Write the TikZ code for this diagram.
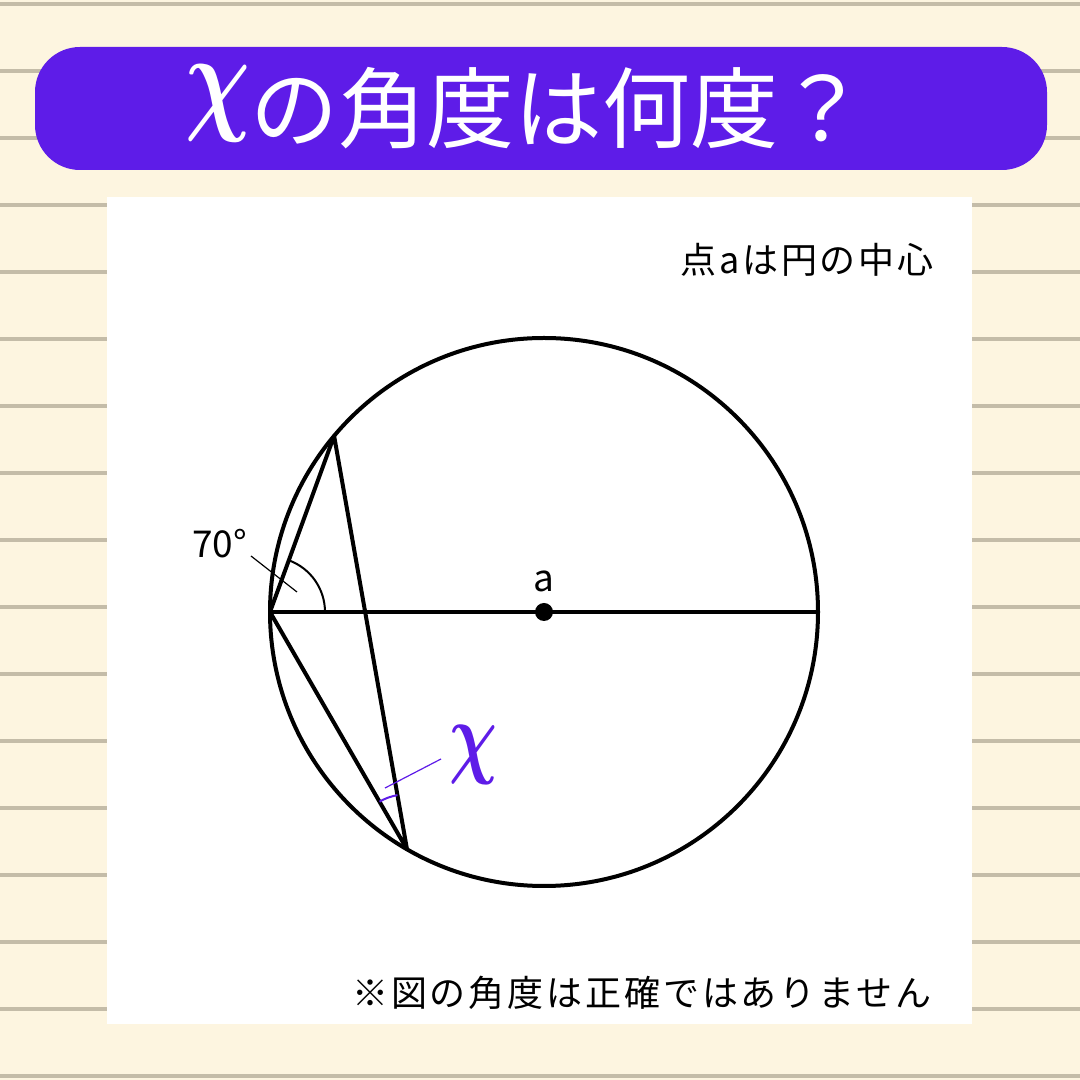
\documentclass[tikz,border=0pt]{standalone}
\usepackage{fontspec}
\usepackage{graphicx}
\newfontfamily\jp{Noto Sans CJK JP}
\newfontfamily\jpsp[LetterSpace=8]{Noto Sans CJK JP}
\definecolor{bgc}{RGB}{253,245,224}
\definecolor{linec}{RGB}{196,188,168}
\definecolor{ban}{RGB}{94,28,232}
\definecolor{xcol}{RGB}{94,28,232}
\tikzset{
  thick line/.style={line width=4, line join=round},
  thin arc/.style={line width=2},
  leader/.style={line width=1.2},
  note/.style={font=\jpsp\fontsize{36}{36}\selectfont, inner sep=0, anchor=base west},
}
\newcommand{\chibox}[2]{\resizebox{#1pt}{#2pt}{\raisebox{\depth}{\boldmath$\chi$}}}
\begin{document}
\begin{tikzpicture}[x=1pt,y=1pt]
\useasboundingbox (0,0) rectangle (1080,1080);
\fill[bgc] (0,0) rectangle (1080,1080);
\foreach \i in {0,...,16} \draw[linec, line width=4] (0,1076-67*\i) -- (1080,1076-67*\i);
\fill[ban, rounded corners=45] (35,910) rectangle (1047,1033);
\fill[white] (107,56) rectangle (972,883);
\node[inner sep=0, anchor=base west, text=white, font=\jp\fontsize{88}{88}\selectfont] (title) at (185,938) {\chibox{65}{77}の角度は何度？};
\node[note] (center note) at (680,806) {点aは円の中心};
\node[note] (bottom note) at (352,73) {※図の角度は正確ではありません};
% geometry
\coordinate (O) at (544,468);
\coordinate (L) at ([shift={(180:274)}]O);
\coordinate (R) at ([shift={(0:274)}]O);
\coordinate (P) at ([shift={(140:274)}]O);
\coordinate (Q) at ([shift={(240:274)}]O);
\draw[thick line] (O) circle[radius=274];
\draw[thick line] (L) -- (R);
\draw[thick line] (L) -- (P) -- (Q) -- cycle;
\draw[thin arc] ([shift={(0:55)}]L) arc[start angle=0, end angle=70, radius=55];
\draw[thin arc, xcol] ([shift={(100:55)}]Q) arc[start angle=100, end angle=120, radius=55];
\fill (O) circle[radius=9];
\node[inner sep=0, anchor=base, font=\jp\fontsize{37}{37}\selectfont] (alabel) at (544,488) {a};
\node[inner sep=0, anchor=base west, font=\jp\fontsize{37}{37}\selectfont] (ang) at (192,522) {70°};
\coordinate (angA) at (251,524);
\coordinate (angB) at (297,488);
\draw[leader] (angA) -- (angB);
\node[inner sep=0, anchor=south west, text=xcol] (xlabel) at (449,295) {\chibox{48}{59}};
\coordinate (xA) at (385,292);
\coordinate (xB) at (441,321);
\draw[leader, xcol] (xA) -- (xB);
\end{tikzpicture}
\end{document}
